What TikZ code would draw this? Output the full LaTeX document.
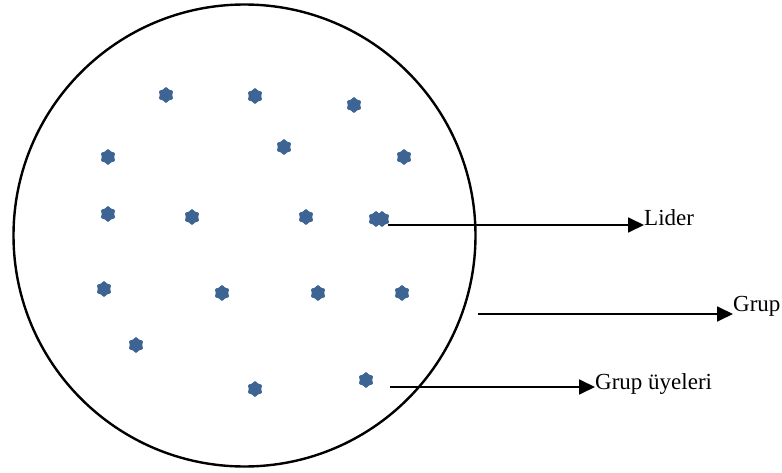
\documentclass[tikz,border=0pt]{standalone}
\usepackage{fontspec}
\setmainfont{Liberation Serif}
\usetikzlibrary{shapes.geometric,arrows.meta}
\definecolor{memberblue}{HTML}{3E6494}
\begin{document}
\begin{tikzpicture}[x=1pt,y=-1pt,
  member/.style={star,star points=6,star point ratio=1.35,minimum size=15.5pt,
    inner sep=0pt,fill=memberblue,draw=memberblue,line width=0.8pt,rounded corners=0.8pt},
  pointer/.style={line width=1.8pt,-{Triangle[length=16pt,width=15pt]}},
  caption/.style={anchor=west,inner sep=0pt,font=\fontsize{23}{27}\selectfont}]
\useasboundingbox (0,0) rectangle (782,473);
% group boundary
\node[draw,circle,line width=2.4pt,minimum size=462pt,inner sep=0pt] (group) at (244.5,235.5) {};
% group members
\foreach \p [count=\i] in {(166,95),(255,96),(354,105),(108,157),(284,147),(404,157),
  (108,214),(192,217),(306,217),(104,289),(222,293),(318,293),(402,293),
  (136,345),(255,389),(366,380)}
  \node[member] (m\i) at \p {};
% leader
\node[member] (leaderA) at (376,219) {};
\node[member] (leader) at (382,219) {};
% labels
\node[caption] (lider) at (644,218) {Lider};
\node[caption] (grup) at (733,306) {Grup};
\node[caption] (uyeler) at (595,384) {Grup üyeleri};
% pointers
\coordinate (gstart) at (478,314);
\coordinate (ustart) at (390,387);
\draw[pointer] (leader.east |- 0,225) -- (lider.west |- 0,225);
\draw[pointer] (gstart) -- (grup.west |- gstart);
\draw[pointer] (ustart) -- (uyeler.west |- ustart);
\end{tikzpicture}
\end{document}
